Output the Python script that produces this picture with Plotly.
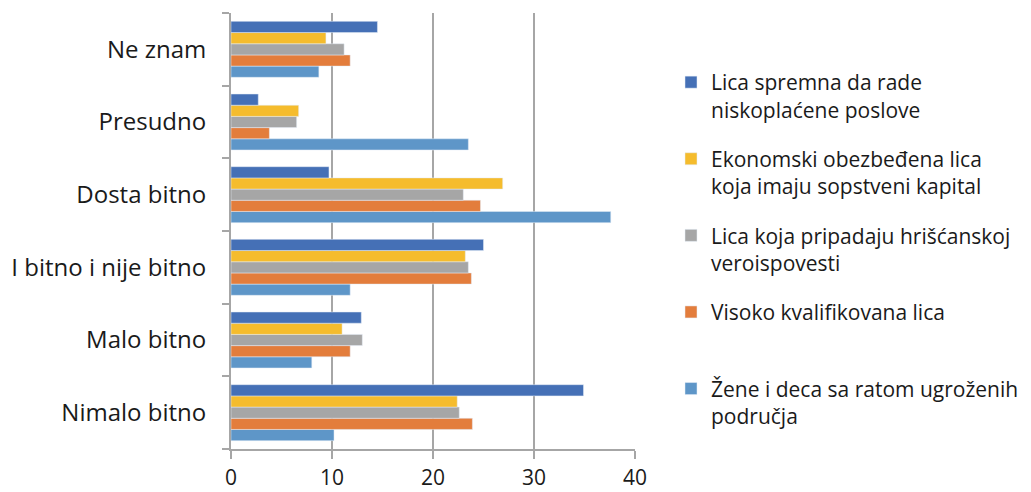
import plotly.graph_objects as go

categories = ["Nimalo bitno", "Malo bitno", "I bitno i nije bitno", "Dosta bitno", "Presudno", "Ne znam"]

series_names = [
    "Lica spremna da rade<br>niskoplaćene poslove",
    "Ekonomski obezbeđena lica<br>koja imaju sopstveni kapital",
    "Lica koja pripadaju hrišćanskoj<br>veroispovesti",
    "Visoko kvalifikovana lica<br> ",
    "Žene i deca sa ratom ugroženih<br>područja",
]

lica_spremna = [34.9, 12.9, 25.0, 9.7, 2.7, 14.5]
ekonomski = [22.4, 11.0, 23.2, 26.9, 6.7, 9.4]
hriscanske = [22.6, 13.0, 23.5, 23.0, 6.5, 11.2]
visoko = [23.9, 11.8, 23.8, 24.7, 3.8, 11.8]
zene_deca = [10.2, 8.0, 11.8, 37.6, 23.5, 8.7]

x_ticks = [0, 10, 20, 30, 40]

colors = ["#4570B6", "#F5BC2D", "#A6A6A6", "#E37D3C", "#5E96C8"]
values = [lica_spremna, ekonomski, hriscanske, visoko, zene_deca]

FONT = "Open Sans"

fig = go.Figure()
# add in reverse so that the first series sits on top of each group
for i in reversed(range(5)):
    fig.add_trace(go.Bar(
        y=categories, x=values[i], orientation="h",
        name=series_names[i], marker_color=colors[i],
        legendgroup=f"g{i}", legendrank=i + 1,
    ))

# the page body adds an 8px margin, so the figure is 8px smaller on each side
fig.update_layout(
    width=1023, height=484,
    margin=dict(l=223, r=396, t=5, b=43),
    paper_bgcolor="white", plot_bgcolor="white",
    barmode="group", bargap=0.23, bargroupgap=0,
    font=dict(family=FONT, color="#1a1a1a"),
    showlegend=True,
    legend=dict(
        xref="paper", yref="paper",
        x=(671 - 231) / 404, y=1 - (62 - 13) / 436, xanchor="left", yanchor="top",
        traceorder="grouped", tracegroupgap=19,
        valign="top", font=dict(size=21, family=FONT, color="#1a1a1a"),
        bgcolor="rgba(0,0,0,0)",
    ),
    xaxis=dict(
        range=[0, 40], tickvals=x_ticks, ticktext=[str(v) for v in x_ticks],
        showgrid=True, gridcolor="#A6A6A6", gridwidth=2,
        zeroline=False, showline=True, linecolor="#A6A6A6", linewidth=2,
        ticks="outside", ticklen=8, tickwidth=1.5, tickcolor="#A6A6A6",
        tickfont=dict(size=21, family=FONT, color="#1a1a1a"),
        ticklabelstandoff=1, automargin=False,
    ),
    yaxis=dict(
        categoryorder="array", categoryarray=categories,
        showgrid=False, zeroline=False, showline=True, linecolor="#A6A6A6", linewidth=2,
        ticks="outside", ticklen=7, tickwidth=1.5, tickcolor="#A6A6A6",
        tickson="boundaries",
        tickfont=dict(size=24, family=FONT, color="#1a1a1a"),
        ticklabelstandoff=18, automargin=False,
    ),
)

fig.write_html("out.html")
